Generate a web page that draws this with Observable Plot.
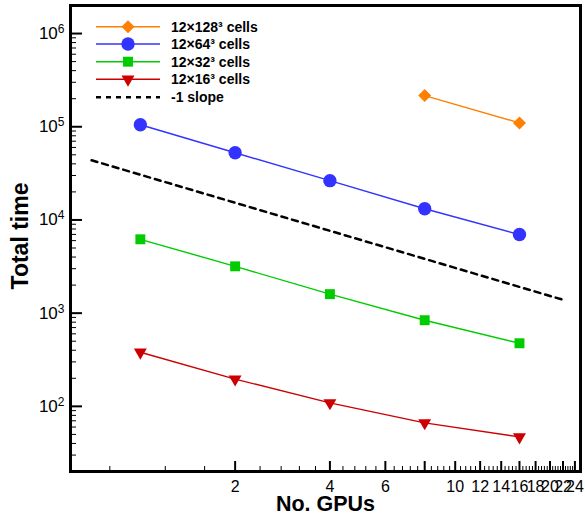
<!DOCTYPE html>
<html><head><meta charset="utf-8">
<script src="https://cdn.jsdelivr.net/npm/d3@7"></script>
<script src="https://cdn.jsdelivr.net/npm/@observablehq/plot@0.6"></script>
<style>
body{margin:0;background:#fff}
#wrap{position:relative;width:585px;height:518px}
#legend{position:absolute;left:0;top:0}
</style>
</head><body><div id="wrap"></div>
<script>
// ---- data ----
const gpus = [1, 2, 4, 8, 16];
const t128 = [null, null, null, 216000, 110000];
const t64 = [105000, 52600, 26400, 13200, 6970];
const t32 = [6200, 3180, 1600, 840, 475];
const t16 = [381, 196, 109, 66.5, 47];
const slopeX = [0.70, 21.8];
const slopeY = [43700, 1404];
const seriesNames = ["12×128³ cells", "12×64³ cells", "12×32³ cells", "12×16³ cells"];
const slopeName = "-1 slope";
const xTickLabels = [2, 4, 6, 8, 10, 12, 14, 16, 18, 20, 22, 24];
const yTickLabels = [100, 1000, 10000, 100000, 1000000];
const xLabel = "No. GPUs";
const yLabel = "Total time";

// ---- styles ----
const styles = [
  {color: "#ff8000", symbol: "square", r: 5.2, rotate: 45},
  {color: "#3333ff", symbol: "circle", r: 6.7, rotate: 0},
  {color: "#00cc00", symbol: "square", r: 5.6, rotate: 0},
  {color: "#cc0000", symbol: "triangle", r: 4.8, rotate: 180}
];
const seriesValues = [t128, t64, t32, t16];

const rows = [];
seriesValues.forEach((vals, s) => gpus.forEach((g, i) => {
  if (vals[i] != null) rows.push({series: s, gpus: g, time: vals[i]});
}));
const slopeRows = slopeX.map((x, i) => ({x, y: slopeY[i]}));

const xMinor = d3.range(0.8, 24.01, 0.4).map(v => +v.toFixed(1)).filter(v => !xTickLabels.includes(v));
const yMinor = [];
for (let e = 1; e <= 6; e++) for (let m = 2; m <= 9; m++) { const v = m * 10 ** e; if (v >= 20 && v <= 2e6) yMinor.push(v); }
const yFmt = v => "10^" + Math.round(Math.log10(v));

const marks = [
  Plot.axisY({ticks: yMinor, tickSize: -6, tickFormat: () => "", label: null, strokeWidth: 1}),
  Plot.axisY({ticks: yTickLabels, tickSize: -12, tickFormat: () => "", label: null, strokeWidth: 2}),
  Plot.axisY({ticks: yTickLabels, tickSize: 0, tickPadding: 6, tickFormat: yFmt, label: null, fontSize: 16, fill: "#000"}),
  Plot.axisX({ticks: xMinor, tickSize: -5, tickFormat: () => "", label: null, strokeWidth: 1}),
  Plot.axisX({ticks: xTickLabels, tickSize: -10, tickFormat: () => "", label: null, strokeWidth: 2}),
  Plot.axisX({ticks: xTickLabels, tickSize: 0, tickPadding: 9, tickFormat: d => String(d), label: null, fontSize: 16, fill: "#000"}),
  Plot.line(slopeRows, {x: "x", y: "y", stroke: "#000", strokeWidth: 2.5, strokeDasharray: "6,5"})
];
styles.forEach((st, s) => {
  const d = rows.filter(r => r.series === s);
  marks.push(Plot.line(d, {x: "gpus", y: "time", stroke: st.color, strokeWidth: 1.4}));
  marks.push(Plot.dot(d, {x: "gpus", y: "time", fill: st.color, stroke: "none", symbol: st.symbol, r: st.r, rotate: st.rotate}));
});
marks.push(Plot.frame({stroke: "#000", strokeWidth: 3}));
marks.push(Plot.text([xLabel], {text: d => d, frameAnchor: "bottom", dy: 33, fontSize: 21.5, fontWeight: "bold", fill: "#000", textAnchor: "middle", lineAnchor: "middle"}));
marks.push(Plot.text([yLabel], {text: d => d, frameAnchor: "left", dx: -49.5, dy: -2.5, rotate: -90, fontSize: 23, fontWeight: "bold", fill: "#000", textAnchor: "middle", lineAnchor: "middle"}));

const plot = Plot.plot({
  width: 585, height: 518,
  marginLeft: 70, marginRight: 5, marginTop: 5, marginBottom: 47,
  style: {fontFamily: "'Liberation Sans', Arial, Helvetica, sans-serif", background: "#fff", color: "#000"},
  x: {type: "log", domain: [0.6, 25]},
  y: {type: "log", domain: [20, 2e6]},
  marks
});
const wrap = document.getElementById("wrap");
wrap.appendChild(plot);

// superscript exponents on y tick labels
d3.select(plot).selectAll("text").each(function () {
  const t = this.textContent;
  if (/^10\^\d+$/.test(t)) {
    const exp = t.split("^")[1];
    const sel = d3.select(this);
    sel.text("10").style("font-size", "17px");
    sel.append("tspan").attr("dy", "-0.5em").style("font-size", "12px").text(exp);
  }
});

// ---- legend overlay ----
const leg = d3.create("svg").attr("id", "legend").attr("width", 300).attr("height", 110)
  .style("font-family", "'Liberation Sans', Arial, Helvetica, sans-serif");
const rowY = [26.7, 44, 61.7, 79.3, 97.3];
const symMap = {square: d3.symbolSquare, circle: d3.symbolCircle, triangle: d3.symbolTriangle};
styles.forEach((st, s) => {
  const y = rowY[s];
  leg.append("line").attr("x1", 96).attr("x2", 160).attr("y1", y).attr("y2", y)
    .attr("stroke", st.color).attr("stroke-width", 1.4);
  leg.append("path").attr("d", d3.symbol(symMap[st.symbol], Math.PI * st.r * st.r)())
    .attr("transform", `translate(128,${y}) rotate(${st.rotate})`).attr("fill", st.color);
  leg.append("text").attr("x", 171).attr("y", y).attr("dy", "0.35em")
    .attr("font-size", 14).attr("font-weight", "bold").text(seriesNames[s]);
});
leg.append("line").attr("x1", 96).attr("x2", 160).attr("y1", rowY[4]).attr("y2", rowY[4])
  .attr("stroke", "#000").attr("stroke-width", 2.5).attr("stroke-dasharray", "5,5");
leg.append("text").attr("x", 171).attr("y", rowY[4]).attr("dy", "0.35em")
  .attr("font-size", 14).attr("font-weight", "bold").text(slopeName);
wrap.appendChild(leg.node());
</script>
</body></html>
